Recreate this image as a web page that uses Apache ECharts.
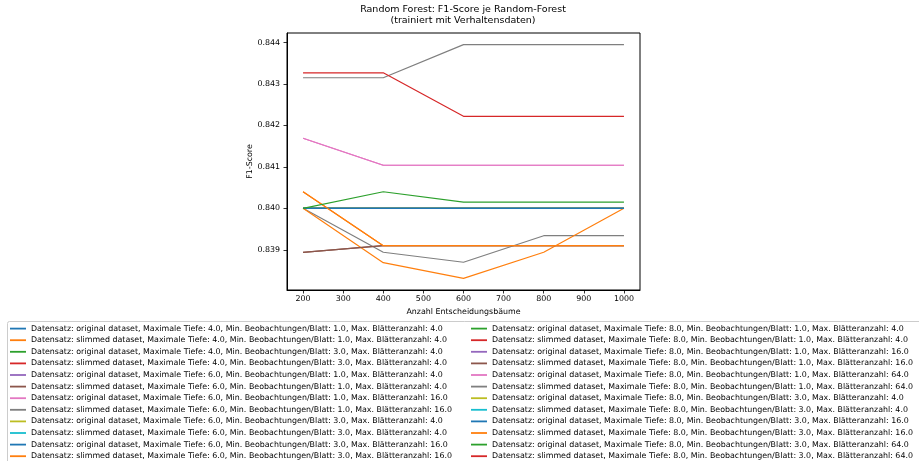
<!DOCTYPE html>
<html><head><meta charset="utf-8">
<script src="https://cdn.jsdelivr.net/npm/echarts@6/dist/echarts.min.js"></script>
<style>html,body{margin:0;padding:0;background:#fff}#c{width:919px;height:461px}</style>
</head><body><div id="c"></div>
<script>
// x categories (number of trees)
const xValues = [200, 400, 600, 800, 1000];
const yTicks = [0.839, 0.840, 0.841, 0.842, 0.843, 0.844];
const xTicks = [200, 300, 400, 500, 600, 700, 800, 900, 1000];

// series parameters
const dataSet   = ['original','slimmed','original','slimmed','original','slimmed','original','slimmed','original','slimmed','original','slimmed',
                   'original','slimmed','original','slimmed','original','slimmed','original','slimmed','original','slimmed','original','slimmed'];
const maxDepth  = [4,4,4,4,6,6,6,6,6,6,6,6, 8,8,8,8,8,8,8,8,8,8,8,8];
const minLeaf   = [1,1,3,3,1,1,1,1,3,3,3,3, 1,1,1,1,1,1,3,3,3,3,3,3];
const maxLeaves = [4,4,4,4,4,4,16,16,4,4,16,16, 4,4,16,16,64,64,4,4,16,16,64,64];

// F1 scores per series (hidden series overlap visible ones)
const f01 = [0.8400, 0.8400, 0.8400, 0.8400, 0.8400];
const f02 = [0.8404, 0.8391, 0.8391, 0.8391, 0.8391];
const f03 = [0.8400, 0.8400, 0.8400, 0.8400, 0.8400];
const f04 = [0.8400, 0.8400, 0.8400, 0.8400, 0.8400];
const f05 = [0.8400, 0.8400, 0.8400, 0.8400, 0.8400];
const f06 = [0.83894, 0.8391, 0.8391, 0.8391, 0.8391];
const f07 = [0.84169, 0.84104, 0.84104, 0.84104, 0.84104];
const f08 = [0.8400, 0.83894, 0.8387, 0.83934, 0.83934];
const f09 = [0.8400, 0.8400, 0.8400, 0.8400, 0.8400];
const f10 = [0.8400, 0.8400, 0.8400, 0.8400, 0.8400];
const f11 = [0.8400, 0.8400, 0.8400, 0.8400, 0.8400];
const f12 = [0.8400, 0.83869, 0.83831, 0.83894, 0.8400];
const f13 = [0.8400, 0.8400, 0.8400, 0.8400, 0.8400];
const f14 = [0.8400, 0.8400, 0.8400, 0.8400, 0.8400];
const f15 = [0.8400, 0.8400, 0.8400, 0.8400, 0.8400];
const f16 = [0.83894, 0.8391, 0.8391, 0.8391, 0.8391];
const f17 = [0.84169, 0.84104, 0.84104, 0.84104, 0.84104];
const f18 = [0.84315, 0.84315, 0.84395, 0.84395, 0.84395];
const f19 = [0.8400, 0.8400, 0.8400, 0.8400, 0.8400];
const f20 = [0.8400, 0.8400, 0.8400, 0.8400, 0.8400];
const f21 = [0.8400, 0.8400, 0.8400, 0.8400, 0.8400];
const f22 = [0.8404, 0.8391, 0.8391, 0.8391, 0.8391];
const f23 = [0.8400, 0.8404, 0.84015, 0.84015, 0.84015];
const f24 = [0.84327, 0.84327, 0.84222, 0.84222, 0.84222];
const scores = [f01,f02,f03,f04,f05,f06,f07,f08,f09,f10,f11,f12,f13,f14,f15,f16,f17,f18,f19,f20,f21,f22,f23,f24];

const palette = ['#1f77b4','#ff7f0e','#2ca02c','#d62728','#9467bd','#8c564b','#e377c2','#7f7f7f','#bcbd22','#17becf'];

const names = scores.map((_, i) =>
  'Datensatz: ' + dataSet[i] + ' dataset, Maximale Tiefe: ' + maxDepth[i].toFixed(1) +
  ', Min. Beobachtungen/Blatt: ' + minLeaf[i].toFixed(1) + ', Max. Blätteranzahl: ' + maxLeaves[i].toFixed(1));

const FONT = 'DejaVu Sans';
const FS = 7.9;
const series = scores.map((vals, i) => ({
  name: names[i],
  type: 'line',
  symbol: 'none',
  silent: true,
  animation: false,
  color: palette[i % 10],
  lineStyle: { width: 1.2, color: palette[i % 10] },
  data: vals.map((v, j) => [xValues[j], v])
}));

const legendCommon = {
  orient: 'vertical',
  padding: 0,
  height: 200,
  icon: 'rect',
  itemWidth: 16,
  itemHeight: 1.8,
  itemGap: 1.6,
  selectedMode: false,
  textStyle: { fontFamily: FONT, fontSize: FS, color: '#000', lineHeight: 10 }
};

const chart = echarts.init(document.getElementById('c'), null, { renderer: 'canvas' });
chart.setOption({
  animation: false,
  backgroundColor: '#fff',
  title: {
    text: 'Random Forest: F1-Score je Random-Forest\n(trainiert mit Verhaltensdaten)',
    left: 463, top: 3.5, textAlign: 'center', padding: 0,
    textStyle: { fontFamily: FONT, fontSize: 9.5, fontWeight: 'normal', color: '#000', lineHeight: 11.5, align: 'center' }
  },
  graphic: [{
    type: 'rect', left: 7, top: 321, z: -1,
    shape: { width: 1000, height: 200, r: 2 },
    style: { fill: '#fff', stroke: '#cccccc', lineWidth: 1 }
  }],
  legend: [
    Object.assign({ left: 10, top: 323.6, data: names.slice(0, 12) }, legendCommon),
    Object.assign({ left: 471, top: 323.6, data: names.slice(12) }, legendCommon)
  ],
  grid: { left: 287, right: 279, top: 33, bottom: 171, show: true, borderColor: '#000', borderWidth: 1, backgroundColor: 'transparent' },
  xAxis: {
    type: 'value', min: 160, max: 1040,
    name: 'Anzahl Entscheidungsbäume', nameLocation: 'middle', nameGap: 15,
    nameTextStyle: { fontFamily: FONT, fontSize: FS, color: '#000' },
    axisLine: { show: true, lineStyle: { color: '#000', width: 1 } },
    axisTick: { show: true, inside: false, length: 3.5, lineStyle: { color: '#000', width: 0.8 }, customValues: xTicks },
    axisLabel: { fontFamily: FONT, fontSize: FS, color: '#000', margin: 5, customValues: xTicks, formatter: v => String(v) },
    splitLine: { show: false }
  },
  yAxis: {
    type: 'value', min: 0.83803, max: 0.84423,
    name: 'F1-Score', nameLocation: 'middle', nameGap: 32,
    nameTextStyle: { fontFamily: FONT, fontSize: FS, color: '#000' },
    axisLine: { show: true, lineStyle: { color: '#000', width: 1 } },
    axisTick: { show: true, inside: false, length: 3.5, lineStyle: { color: '#000', width: 0.8 }, customValues: yTicks },
    axisLabel: { fontFamily: FONT, fontSize: FS, color: '#000', margin: 7, customValues: yTicks, formatter: v => v.toFixed(3) },
    splitLine: { show: false }
  },
  series: series
});
</script>
</body></html>
